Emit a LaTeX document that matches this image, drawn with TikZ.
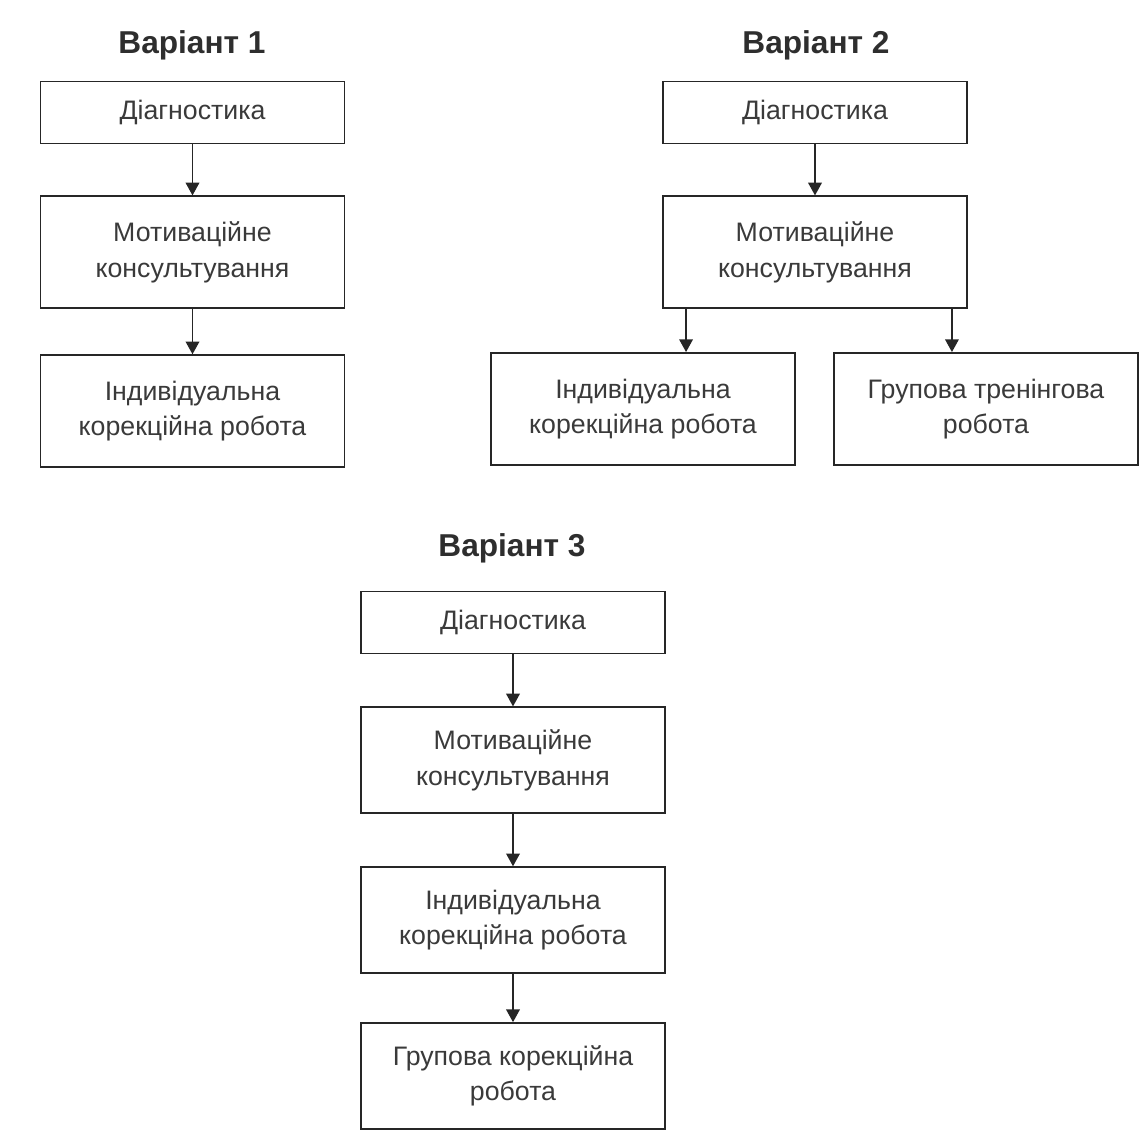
\documentclass[tikz,border=0pt]{standalone}
\usepackage{fontspec}
\setmainfont{Liberation Sans}
\usepackage{tikz}
\usetikzlibrary{arrows.meta,positioning}
\definecolor{inkgray}{HTML}{3A3A3A}

\begin{document}
\begin{tikzpicture}[x=0.025cm, y=-0.025cm,
  box/.style={draw=black!85, line width=1.3pt, text=inkgray, minimum width=7.6cm,
    align=center, font=\fontsize{19}{25}\selectfont},
  short/.style={box, minimum height=1.55cm},
  tall/.style={box, minimum height=2.8cm},
  mid/.style={box, minimum height=2.65cm},
  title/.style={text=inkgray!80!black, font=\fontsize{22.5}{27}\selectfont\bfseries},
  arr/.style={-{Triangle[length=0.32cm, width=0.34cm]}, line width=1.3pt, draw=black!85}]
  \useasboundingbox (0,0) rectangle (1146,1139);

  \node[title] (t1) at (192,45) {Варіант 1};
  \node[short] (diag1) at (192.5,112.5) {Діагностика};
  \node[tall, below=1.275cm of diag1] (mot1) {Мотиваційне\\консультування};
  \node[tall, below=1.125cm of mot1] (ind1) {Індивідуальна\\корекційна робота};

  \node[title] (t2) at (816,45) {Варіант 2};
  \node[short] (diag2) at (815,112.5) {Діагностика};
  \node[tall, below=1.275cm of diag2] (mot2) {Мотиваційне\\консультування};
  \node[tall] (ind2) at (643,409) {Індивідуальна\\корекційна робота};
  \node[tall] (grp2) at (986,409) {Групова тренінгова\\робота};

  \node[title] (t3) at (512,548) {Варіант 3};
  \node[short] (diag3) at (513,622.5) {Діагностика};
  \node[mid, below=1.3cm of diag3] (mot3) {Мотиваційне\\консультування};
  \node[mid, below=1.3cm of mot3] (ind3) {Індивідуальна\\корекційна робота};
  \node[mid, below=1.2cm of ind3] (grp3) {Групова корекційна\\робота};

  \foreach \a/\b in {diag1/mot1, mot1/ind1, diag2/mot2, diag3/mot3, mot3/ind3, ind3/grp3}
    \draw[arr] (\a) -- (\b);
  \draw[arr] ([xshift=0.6cm]mot2.south west) -- ([xshift=0.6cm]mot2.south west |- ind2.north);
  \draw[arr] ([xshift=-0.4cm]mot2.south east) -- ([xshift=-0.4cm]mot2.south east |- grp2.north);
\end{tikzpicture}
\end{document}
